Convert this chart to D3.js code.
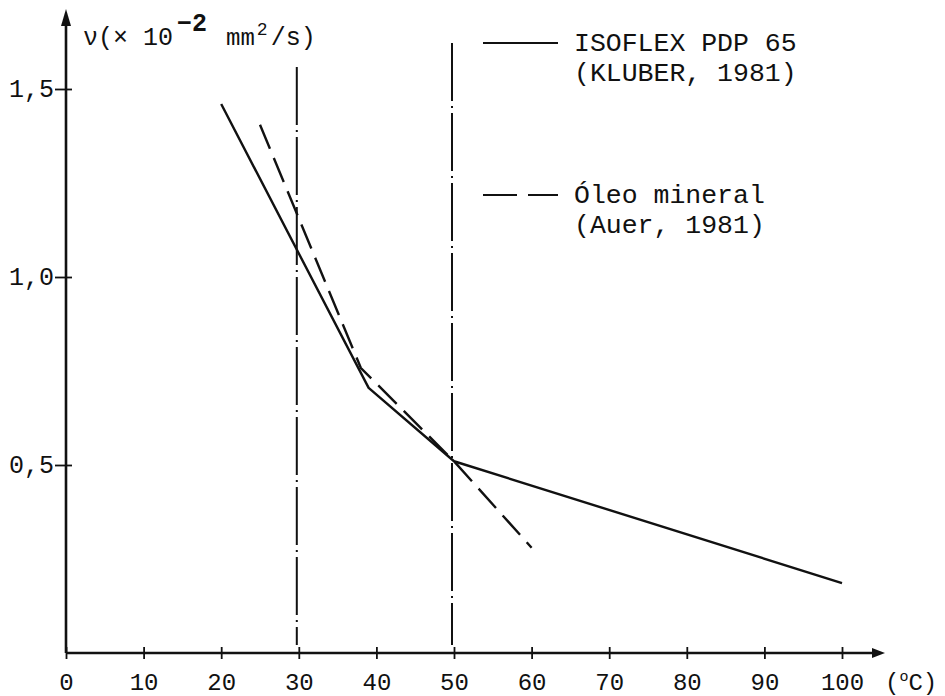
<!DOCTYPE html>
<html><head><meta charset="utf-8">
<script src="https://cdn.jsdelivr.net/npm/d3@7/dist/d3.min.js"></script>
<style>
html,body{margin:0;padding:0;background:#fff;}
svg{display:block;}
text{font-family:"Liberation Mono","DejaVu Sans Mono",monospace;fill:#111;}
</style></head>
<body>
<svg id="c" width="945" height="696"></svg>
<script>
// ---- data ----
const xTicks = [0,10,20,30,40,50,60,70,80,90,100];
const yTicks = [0.5,1.0,1.5];
const yTickLabels = ["0,5","1,0","1,5"];
const isoflexT = [20,39,50,100];
const isoflexV = [1.46,0.705,0.51,0.186];
const oleoT = [25,38,50,60];
const oleoV = [1.405,0.758,0.51,0.28];
const refT = [30,50];
const legendNames = [["ISOFLEX PDP 65","(KLUBER, 1981)"],["Óleo mineral","(Auer, 1981)"]];

const svg = d3.select("#c");
const x = d3.scaleLinear().domain([0,100]).range([66,842]);
const y = d3.scaleLinear().domain([0,1.5]).range([653,89]);
const ink = "#111";

// x axis
const xg = svg.append("g").attr("transform",`translate(0,${y(0)})`)
  .call(d3.axisBottom(x).tickValues(xTicks).tickSize(6).tickFormat(d3.format("d")));
xg.select(".domain").remove();
xg.selectAll(".tick line").attr("y1",-6).attr("y2",6).attr("stroke",ink).attr("stroke-width",1.8);
xg.selectAll(".tick text").attr("font-size",24).attr("font-family","Liberation Mono").attr("fill",ink)
  .attr("y",37).attr("dy",0);
svg.append("line").attr("x1",x(0)).attr("x2",878).attr("y1",y(0)).attr("y2",y(0)).attr("stroke",ink).attr("stroke-width",2.6);
svg.append("path").attr("d",`M885,${y(0)} L872,${y(0)-5} L872,${y(0)+5} Z`).attr("fill",ink);
const xl = svg.append("text").attr("x",885).attr("y",690).attr("font-size",24);
xl.append("tspan").text("(");
xl.append("tspan").attr("font-size",15).attr("dy",-9).text("o");
xl.append("tspan").attr("dy",9).text("C)");

// y axis
const yg = svg.append("g").attr("transform",`translate(${x(0)},0)`)
  .call(d3.axisLeft(y).tickValues(yTicks).tickSize(11).tickPadding(1).tickFormat((d,i)=>yTickLabels[i]));
yg.select(".domain").remove();
yg.selectAll(".tick line").attr("x1",-11).attr("x2",6).attr("stroke",ink).attr("stroke-width",1.8);
yg.selectAll(".tick text").attr("font-size",25).attr("font-family","Liberation Mono").attr("fill",ink).attr("dy","0.3em");
svg.append("line").attr("x1",x(0)).attr("x2",x(0)).attr("y1",y(0)).attr("y2",22).attr("stroke",ink).attr("stroke-width",2.6);
svg.append("path").attr("d",`M${x(0)},9 L${x(0)-5},26 L${x(0)+5},26 Z`).attr("fill",ink);

// y title
const yt = svg.append("text").attr("x",83).attr("y",45).attr("font-size",25);
yt.append("tspan").text("ν(× 10");
yt.append("tspan").attr("dx",4).attr("dy",-14).attr("font-size",25).attr("font-weight","bold").text("−2");
yt.append("tspan").attr("dx",4).attr("dy",14).text(" ");
yt.append("tspan").attr("font-size",24).text("mm");
yt.append("tspan").attr("dx",2).attr("dy",-10).attr("font-size",18).text("2");
yt.append("tspan").attr("dx",3).attr("dy",10).text("/s)");

// reference vertical lines
const refTop = [67,43];
refT.forEach((t,i)=>{
  svg.append("line").attr("x1",x(t)-2).attr("x2",x(t)-2).attr("y1",refTop[i]).attr("y2",y(0)-8)
    .attr("stroke",ink).attr("stroke-width",2).attr("stroke-dasharray","58,5,2,5");
});

// series
const line = d3.line().x(d=>x(d[0])).y(d=>y(d[1]));
svg.append("path").datum(isoflexT.map((t,i)=>[t,isoflexV[i]]))
  .attr("d",line).attr("fill","none").attr("stroke",ink).attr("stroke-width",2.4).attr("stroke-linejoin","round");
svg.append("path").datum(oleoT.map((t,i)=>[t,oleoV[i]]))
  .attr("d",line).attr("fill","none").attr("stroke",ink).attr("stroke-width",2.4).attr("stroke-dasharray","26,10");

// legend
const legY = [43,195];
const legDash = [null,"34,11"];
legendNames.forEach((nm,i)=>{
  svg.append("line").attr("x1",483).attr("x2",558).attr("y1",legY[i]).attr("y2",legY[i])
    .attr("stroke",ink).attr("stroke-width",2.2).attr("stroke-dasharray",legDash[i]);
  svg.append("text").attr("x",574).attr("y",legY[i]+8).attr("font-size",26.5).text(nm[0]);
  svg.append("text").attr("x",574).attr("y",legY[i]+38).attr("font-size",26.5).text(nm[1]);
});
</script>
</body></html>
